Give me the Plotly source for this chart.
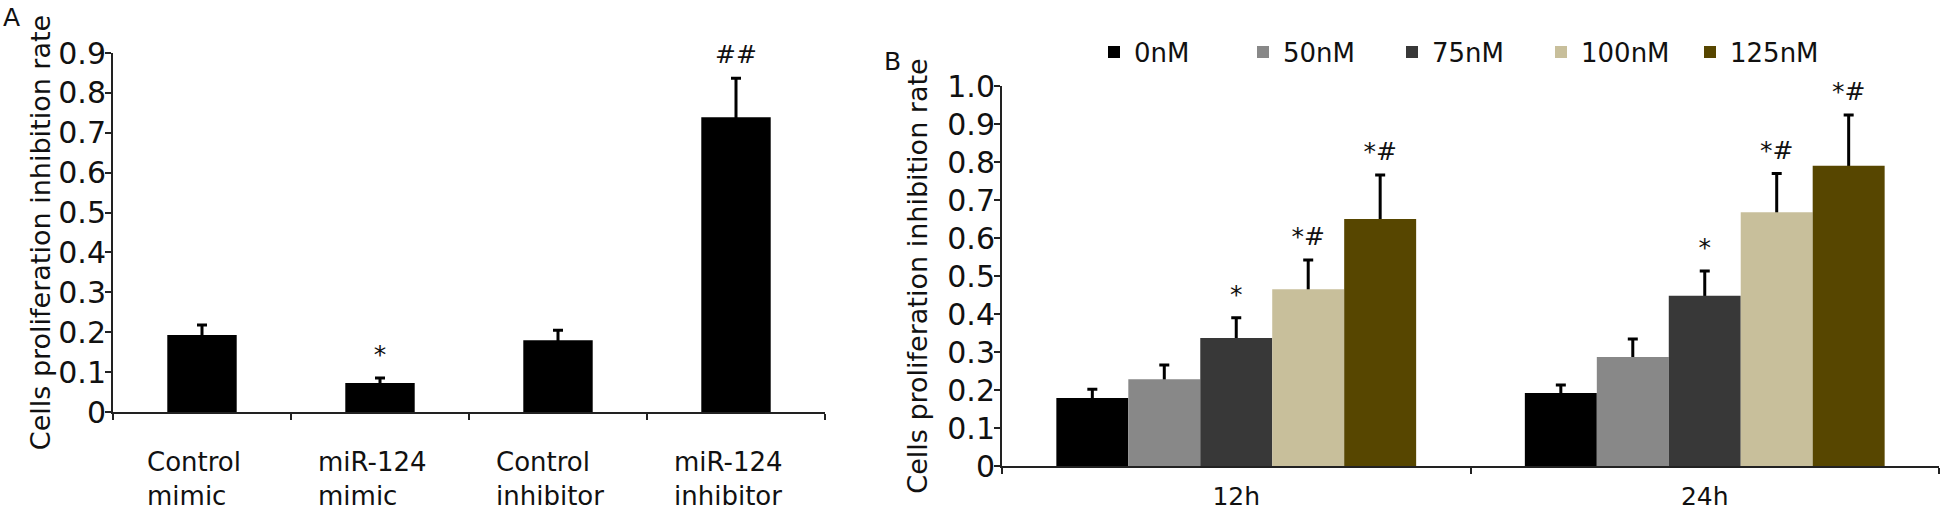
import plotly.graph_objects as go

# ---------------- data ----------------
cats_A = ["Control mimic", "miR-124 mimic", "Control inhibitor", "miR-124 inhibitor"]
labels_A = ["Control<br>mimic", "miR-124<br>mimic", "Control<br>inhibitor", "miR-124<br>inhibitor"]
vals_A = [0.193, 0.073, 0.180, 0.739]
err_A = [0.025, 0.012, 0.025, 0.098]
marks_A = ["", "*", "", "##"]

cats_B = ["12h", "24h"]
series_B = ["0nM", "50nM", "75nM", "100nM", "125nM"]
vals_B = [
    [0.179, 0.192],
    [0.228, 0.287],
    [0.337, 0.448],
    [0.465, 0.668],
    [0.650, 0.790],
]
err_B = [
    [0.023, 0.021],
    [0.038, 0.047],
    [0.053, 0.065],
    [0.077, 0.102],
    [0.116, 0.134],
]
marks_B = [
    ["", ""],
    ["", ""],
    ["*", "*"],
    ["*#", "*#"],
    ["*#", "*#"],
]

yticks_A = [0, 0.1, 0.2, 0.3, 0.4, 0.5, 0.6, 0.7, 0.8, 0.9]
yticktext_A = ["0", "0.1", "0.2", "0.3", "0.4", "0.5", "0.6", "0.7", "0.8", "0.9"]
yticks_B = [0, 0.1, 0.2, 0.3, 0.4, 0.5, 0.6, 0.7, 0.8, 0.9, 1.0]
yticktext_B = ["0", "0.1", "0.2", "0.3", "0.4", "0.5", "0.6", "0.7", "0.8", "0.9", "1.0"]

colors_B = ["#000000", "#888888", "#383838", "#c8bf9b", "#574600"]
color_A = "#000000"

FONT = "DejaVu Sans"
W, H = 1946, 514

def px_x(p):
    return p / W

def px_y(p):
    return 1 - p / H

LABEL_PAD = 0.015  # extra room between error cap and significance marks

fig = go.Figure()

# ---------------- panel A ----------------
barw_A = 0.39
fig.add_trace(go.Bar(
    x=cats_A, y=vals_A, xaxis="x", yaxis="y", offsetgroup="a", width=barw_A,
    marker=dict(color="rgba(0,0,0,0)", line=dict(width=0)),
    error_y=dict(type="data", symmetric=False, array=err_A,
                 arrayminus=[v + 1 for v in vals_A],
                 color="#000000", thickness=3, width=5),
    showlegend=False, hoverinfo="skip"))
fig.add_trace(go.Bar(
    x=cats_A, y=vals_A, xaxis="x", yaxis="y", offsetgroup="a", width=barw_A,
    marker=dict(color=color_A, line=dict(width=0)), showlegend=False, name="A"))
fig.add_trace(go.Bar(
    x=cats_A, y=[e + LABEL_PAD for e in err_A], base=vals_A, xaxis="x", yaxis="y",
    offsetgroup="a", width=barw_A,
    marker=dict(color="rgba(0,0,0,0)", line=dict(width=0)),
    text=marks_A, textposition="outside", textangle=0, constraintext="none",
    outsidetextfont=dict(family=FONT, size=25, color="#111111"),
    cliponaxis=False, showlegend=False, hoverinfo="skip"))

# ---------------- panel B ----------------
for i, name in enumerate(series_B):
    og = "s%d" % i
    fig.add_trace(go.Bar(
        x=cats_B, y=vals_B[i], xaxis="x2", yaxis="y2", offsetgroup=og,
        marker=dict(color="rgba(0,0,0,0)", line=dict(width=0)),
        error_y=dict(type="data", symmetric=False, array=err_B[i],
                     arrayminus=[v + 1 for v in vals_B[i]],
                     color="#000000", thickness=3, width=5),
        showlegend=False, hoverinfo="skip"))
    fig.add_trace(go.Bar(
        x=cats_B, y=vals_B[i], xaxis="x2", yaxis="y2", offsetgroup=og,
        marker=dict(color=colors_B[i], line=dict(width=0)), name=name, showlegend=True))
    fig.add_trace(go.Bar(
        x=cats_B, y=[e + LABEL_PAD for e in err_B[i]], base=vals_B[i],
        xaxis="x2", yaxis="y2", offsetgroup=og,
        marker=dict(color="rgba(0,0,0,0)", line=dict(width=0)),
        text=marks_B[i], textposition="outside", textangle=0, constraintext="none",
        outsidetextfont=dict(family=FONT, size=25, color="#111111"),
        cliponaxis=False, showlegend=False, hoverinfo="skip"))

axis_common = dict(showline=True, linecolor="#222222", linewidth=2, showgrid=False,
                   zeroline=False, ticks="outside", ticklen=6, tickwidth=1.5,
                   tickcolor="#222222", automargin=False)

ytitle = "Cells proliferation inhibition rate"

annotations = []
for c, lab in zip(cats_A, labels_A):
    annotations.append(dict(x=c, xref="x", y=px_y(445), yref="paper", text=lab,
                            showarrow=False, xanchor="center", yanchor="top",
                            align="left", xshift=-8,
                            font=dict(family=FONT, size=26, color="#111111")))
annotations.append(dict(x=px_x(1), y=px_y(1), xref="paper", yref="paper", text="A",
                        showarrow=False, xanchor="left", yanchor="top",
                        font=dict(family=FONT, size=25, color="#111111")))
annotations.append(dict(x=px_x(882), y=px_y(45), xref="paper", yref="paper", text="B",
                        showarrow=False, xanchor="left", yanchor="top",
                        font=dict(family=FONT, size=25, color="#111111")))

fig.update_layout(
    width=W, height=H,
    margin=dict(l=0, r=0, t=0, b=0, pad=0, autoexpand=False),
    paper_bgcolor="white", plot_bgcolor="white",
    font=dict(family=FONT, color="#111111"),
    barmode="group", bargap=0.232, bargroupgap=0,
    xaxis=dict(domain=[px_x(113), px_x(825)], anchor="y", type="category",
               categoryorder="array", categoryarray=cats_A, range=[-0.5, 3.5],
               tickson="boundaries", showticklabels=False, **axis_common),
    yaxis=dict(domain=[px_y(412), px_y(53)], anchor="x", range=[0, 0.9],
               tickvals=yticks_A, ticktext=yticktext_A, ticklabelstandoff=-7,
               tickfont=dict(family=FONT, size=30, color="#111111"),
               title=dict(text=ytitle, standoff=0,
                          font=dict(family=FONT, size=27, color="#111111")),
               **axis_common),
    xaxis2=dict(domain=[px_x(1002), px_x(1939)], anchor="y2", type="category",
                categoryorder="array", categoryarray=cats_B, range=[-0.5, 1.5],
                tickson="boundaries", ticklabelstandoff=7,
                tickfont=dict(family=FONT, size=25, color="#111111"),
                **axis_common),
    yaxis2=dict(domain=[px_y(466), px_y(86)], anchor="x2", range=[0, 1.0],
                tickvals=yticks_B, ticktext=yticktext_B, ticklabelstandoff=-7,
                tickfont=dict(family=FONT, size=30, color="#111111"),
                title=dict(text=ytitle, standoff=12,
                           font=dict(family=FONT, size=27, color="#111111")),
                **axis_common),
    legend=dict(orientation="h", x=px_x(1094), xanchor="left", y=px_y(52),
                yanchor="middle", bgcolor="rgba(0,0,0,0)", entrywidth=104,
                font=dict(family=FONT, size=26, color="#111111"),
                traceorder="normal"),
    annotations=annotations,
)

# remove the default page margin so the 1946x514 figure fills the window exactly
fig.write_html("out.html", config={"displayModeBar": False},
               post_script="document.body.style.margin='0px';")
